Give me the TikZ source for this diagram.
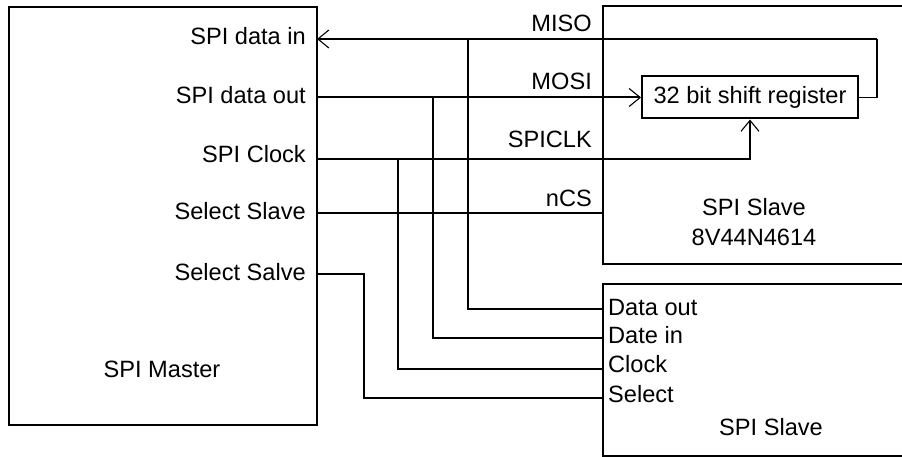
\documentclass[tikz,border=0pt]{standalone}
\usepackage{fontspec}
\setmainfont{Liberation Sans}
\usetikzlibrary{arrows.meta}
\begin{document}
\begin{tikzpicture}[x=1pt,y=-1pt,
  font=\fontsize{23.6}{28}\selectfont,
  box/.style={draw, line width=2.3pt, inner sep=0pt},
  wire/.style={line width=2pt},
  arr/.style={-{Straight Barb[length=11pt,width=18pt,line width=1.1pt]}},
  lbl/.style={anchor=base east, inner sep=0pt},
  lbll/.style={anchor=base west, inner sep=0pt},
  lblc/.style={anchor=base, inner sep=0pt}]
\useasboundingbox (0,0) rectangle (902,457);
\clip (0,0) rectangle (902,457);

% boxes
\node[box, anchor=north west, minimum width=308pt, minimum height=418pt] (master) at (8,6) {};
\node[box, anchor=north west, minimum width=330pt, minimum height=258pt] (slaveA) at (602,5) {};
\node[box, anchor=north west, minimum width=330pt, minimum height=172pt] (slaveB) at (602,283) {};
\node[draw, line width=2pt, minimum width=216pt, minimum height=42pt, inner sep=0pt] (reg) at (750,97.5) {32 bit shift register};

% master labels
\node[lbl] (tdin) at (306,45) {SPI data in};
\node[lbl] (tdout) at (306,104) {SPI data out};
\node[lbl] (tclk) at (306,163) {SPI Clock};
\node[lbl] (tsel) at (306,220) {Select Slave};
\node[lbl] (tsel2) at (306,280) {Select Salve};
\node[lblc] (tmaster) at (162,377.5) {SPI Master};

% wire labels
\node[lbl] (tmiso) at (592,31.5) {MISO};
\node[lbl] (tmosi) at (592,90) {MOSI};
\node[lbl] (tspiclk) at (592,148) {SPICLK};
\node[lbl] (tncs) at (592,207) {nCS};

% slave A labels
\node[lblc] (tsa1) at (754,215) {SPI Slave};
\node[lblc] (tsa2) at (754,245) {8V44N4614};

% slave B labels
\node[lbll] (tbd) at (608,315) {Data out};
\node[lbll] (tbi) at (608,343) {Date in};
\node[lbll] (tbc) at (608,372) {Clock};
\node[lbll] (tbs) at (608,402) {Select};
\node[lblc] (tbn) at (771,435) {SPI Slave};

% ports
\coordinate (mdin) at (317,39);
\coordinate (mdout) at (316,97.5);
\coordinate (mclk) at (316,159);
\coordinate (msel) at (316,213.5);
\coordinate (msel2) at (316,274);
\coordinate (jmiso) at (468,39);
\coordinate (jmosi) at (432.5,97.5);
\coordinate (jclk) at (398,159);
\coordinate (jsel) at (364,274);
\coordinate (bdout) at (602,308.5);
\coordinate (bdin) at (602,338);
\coordinate (bclk) at (602,369);
\coordinate (bsel) at (602,398);
\coordinate (ancs) at (602,213.5);
\coordinate (loop) at (877,39);

% wires
\draw[wire, line width=1.7pt] (reg.east) -- (reg.east -| loop) -- (loop);
\draw[wire, arr] (loop) -- (mdin);
\draw[wire, arr] (mdout) -- (reg.west);
\draw[wire, arr] (mclk) -| (reg.south);
\draw[wire] (msel) -- (ancs);
\draw[wire] (msel2) -- (jsel) |- (bsel);
\draw[wire] (jmiso) |- (bdout);
\draw[wire] (jmosi) |- (bdin);
\draw[wire] (jclk) |- (bclk);
\end{tikzpicture}
\end{document}
